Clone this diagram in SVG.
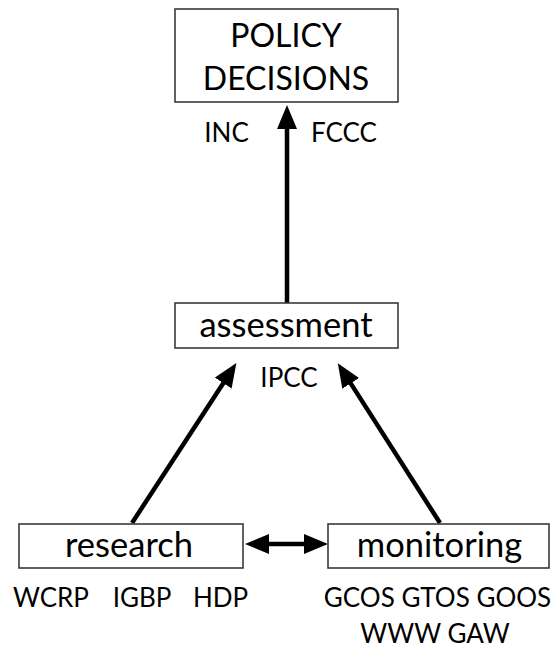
<svg xmlns="http://www.w3.org/2000/svg" width="556" height="650" viewBox="0 0 556 650">
<defs>
<style>
.box{fill:#fff;stroke:#3a3a3a;stroke-width:1.6}
.t{font-family:Lato,"Open Sans","Liberation Sans",sans-serif;fill:#000;text-anchor:middle}
.node{font-size:34.5px}
.big{font-size:32px}
.lbl{font-size:26px}
.edge{stroke:#000;stroke-width:4.5;fill:none}
</style>
<marker id="ah" viewBox="0 0 24 20" refX="14" refY="10" markerWidth="24" markerHeight="20" markerUnits="userSpaceOnUse" orient="auto-start-reverse">
<path d="M0,0 L24,10 L0,20 z" fill="#000"/>
</marker>
</defs>
<rect width="556" height="650" fill="#fff"/>
<g id="connectors">
<line class="edge" x1="287" y1="303" x2="287" y2="115" marker-end="url(#ah)"/>
<line class="edge" x1="132" y1="523" x2="230.9" y2="371.4" marker-end="url(#ah)"/>
<line class="edge" x1="440" y1="523" x2="343.2" y2="371.6" marker-end="url(#ah)"/>
<line class="edge" x1="255" y1="544" x2="318" y2="544" marker-start="url(#ah)" marker-end="url(#ah)"/>
</g>
<g id="policy">
<rect class="box" x="175" y="9" width="223" height="93"/>
<text class="t big" x="286" y="47">POLICY</text>
<text class="t big" x="286" y="90">DECISIONS</text>
</g>
<g id="policy-labels">
<text class="t lbl" x="226.5" y="142">INC</text>
<text class="t lbl" x="344" y="142">FCCC</text>
</g>
<g id="assessment">
<rect class="box" x="175" y="303" width="223" height="45"/>
<text class="t node" x="286" y="337">assessment</text>
</g>
<g id="assessment-labels">
<text class="t lbl" x="289" y="387">IPCC</text>
</g>
<g id="research">
<rect class="box" x="19" y="524" width="224" height="44"/>
<text class="t node" x="129" y="557">research</text>
</g>
<g id="research-labels">
<text class="t lbl" x="51" y="607">WCRP</text>
<text class="t lbl" x="142" y="607">IGBP</text>
<text class="t lbl" x="220.5" y="607">HDP</text>
</g>
<g id="monitoring">
<rect class="box" x="328" y="524" width="221" height="44"/>
<text class="t node" x="439.5" y="557">monitoring</text>
</g>
<g id="monitoring-labels">
<text class="t lbl" x="437.5" y="607">GCOS GTOS GOOS</text>
<text class="t lbl" x="435" y="643">WWW GAW</text>
</g>
</svg>
